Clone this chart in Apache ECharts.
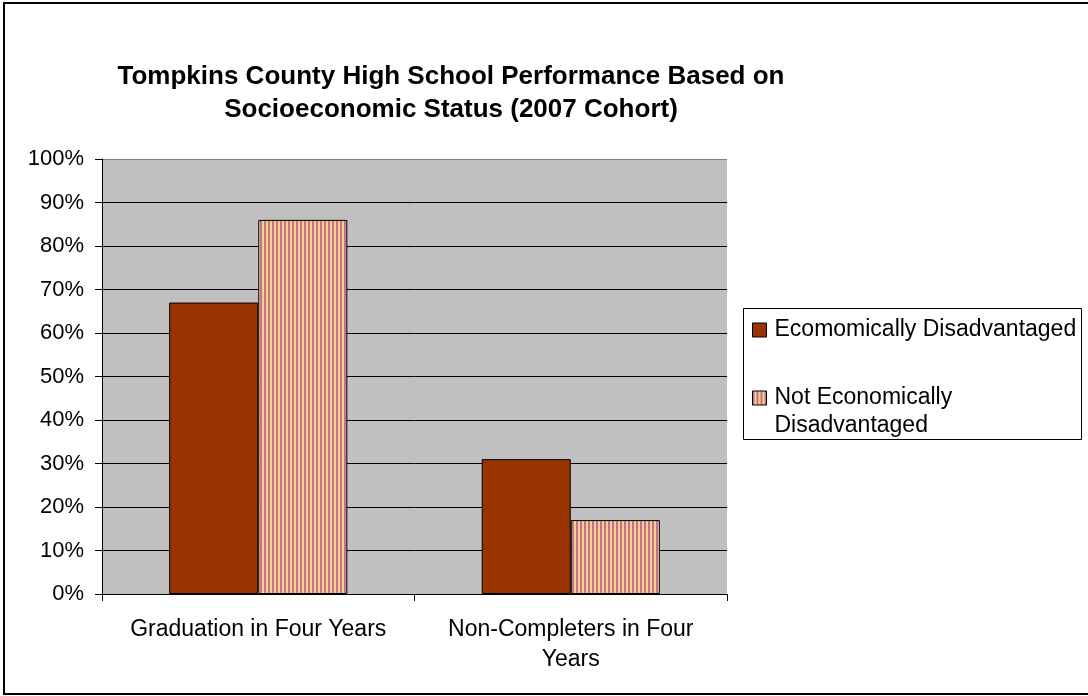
<!DOCTYPE html>
<html>
<head>
<meta charset="utf-8">
<script src="https://cdn.jsdelivr.net/npm/echarts@6/dist/echarts.min.js"></script>
<style>
  html, body { margin: 0; padding: 0; background: #fff; }
  #chart { width: 1088px; height: 696px; }
</style>
</head>
<body>
<div id="chart"></div>
<script>
// Cohort outcomes by socioeconomic status (percent of students)
const categories = ['Graduation in Four Years', 'Non-Completers in Four\nYears'];
const seriesNames = ['Ecomomically Disadvantaged', 'Not Economically Disadvantaged'];
const disadvantaged = [67, 31];
const notDisadvantaged = [86, 17];
const yTicks = [0, 10, 20, 30, 40, 50, 60, 70, 80, 90, 100];

// Vertical pink / yellow stripe fill for the second series
function stripeCanvas() {
  const c = document.createElement('canvas');
  c.width = 4; c.height = 4;
  const g = c.getContext('2d');
  g.fillStyle = '#f0d48e'; g.fillRect(0, 0, 4, 4);
  g.fillStyle = '#c8718a'; g.fillRect(0, 0, 2, 4);
  return c;
}
const stripes = { image: stripeCanvas(), repeat: 'repeat' };

const FONT = 'Liberation Sans, Arial, sans-serif';
const chart = echarts.init(document.getElementById('chart'), null, { renderer: 'canvas' });

// top gridline doubles as the plot's grey upper border
const splitColors = yTicks.map((t, i) => i === yTicks.length - 1 ? '#808080' : '#000');

const legendText = { fontFamily: FONT, fontSize: 23, color: '#000', lineHeight: 28, padding: [0, 0, 0, 3] };

chart.setOption({
  animation: false,
  backgroundColor: '#fff',
  title: {
    text: 'Tompkins County High School Performance Based on\nSocioeconomic Status (2007 Cohort)',
    left: 451, top: 60, textAlign: 'center', padding: 0,
    textStyle: { fontFamily: FONT, fontSize: 26, fontWeight: 'bold', color: '#000', lineHeight: 33 }
  },
  grid: {
    left: 102, top: 159, right: 361, bottom: 102,
    show: true, backgroundColor: '#c0c0c0', borderWidth: 0
  },
  legend: [{
    orient: 'vertical', left: 752, top: 316, padding: 0,
    icon: 'rect', itemWidth: 14, itemHeight: 14,
    data: [seriesNames[0]],
    itemStyle: { borderColor: '#000', borderWidth: 1 },
    textStyle: legendText
  }, {
    orient: 'vertical', left: 752, top: 356, padding: 0,
    icon: 'rect', itemWidth: 14, itemHeight: 14,
    data: [seriesNames[1]],
    // leading blank line keeps the first text line level with the swatch
    formatter: () => '\u00a0\nNot Economically\nDisadvantaged',
    itemStyle: { borderColor: '#000', borderWidth: 1 },
    textStyle: legendText
  }],
  xAxis: {
    type: 'category', data: categories,
    axisLine: { show: true, lineStyle: { color: '#000', width: 1 } },
    axisTick: { show: true, length: 7, lineStyle: { color: '#000' } },
    axisLabel: { interval: 0, fontFamily: FONT, fontSize: 23, color: '#000', lineHeight: 30, margin: 21 },
    splitLine: { show: false }
  },
  yAxis: {
    type: 'value', min: 0, max: 100, interval: 10,
    axisLine: { show: true, lineStyle: { color: '#000', width: 1 } },
    axisTick: { show: true, length: 7, lineStyle: { color: '#000' } },
    axisLabel: { fontFamily: FONT, fontSize: 22, color: '#000', margin: 18, formatter: '{value}%' },
    splitLine: { show: true, lineStyle: { color: splitColors, width: 1 } }
  },
  series: [{
    name: seriesNames[0], type: 'bar', data: disadvantaged,
    barGap: '0%', barCategoryGap: '43%',
    itemStyle: { color: '#993300', borderColor: '#000', borderWidth: 1 }
  }, {
    name: seriesNames[1], type: 'bar', data: notDisadvantaged,
    itemStyle: { color: stripes, borderColor: '#000', borderWidth: 1 }
  }],
  graphic: [{
    type: 'rect', silent: true,
    shape: { x: 4, y: 3, width: 1200, height: 691 },
    style: { fill: 'none', stroke: '#000', lineWidth: 2 }
  }, {
    type: 'rect', silent: true,
    shape: { x: 743.5, y: 308.5, width: 338, height: 131 },
    style: { fill: 'none', stroke: '#000', lineWidth: 1 }
  }]
});
</script>
</body>
</html>
